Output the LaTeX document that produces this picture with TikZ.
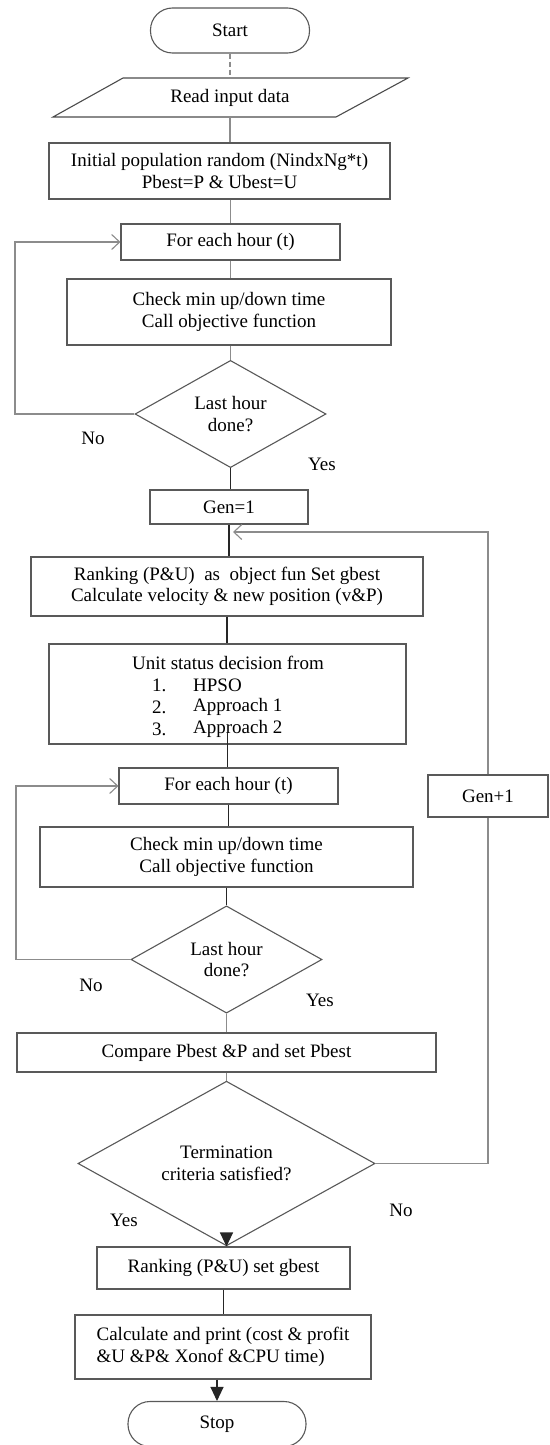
\documentclass[tikz,border=0pt]{standalone}
\usepackage{fontspec}
\setmainfont{Liberation Serif}
\usetikzlibrary{shapes.geometric,arrows.meta,calc}
\begin{document}
\begin{tikzpicture}[x=1pt,y=-1pt,
  font=\fontsize{19}{21.5}\selectfont,
  box/.style={draw=black!65,line width=1.1pt,inner sep=0pt,align=center},
  term/.style={box,rounded corners=22pt},
  dec/.style={diamond,draw=black!65,line width=1.1pt,inner sep=0pt,align=center},
  lbl/.style={inner sep=0pt},
  gline/.style={draw=black!45,line width=1.1pt},
  kline/.style={draw=black!85,line width=1.1pt},
  openarrow/.style={-{Straight Barb[length=8pt,width=15pt]}},
  fillarrow/.style={-{Triangle[length=14pt,width=13pt]}}]
\useasboundingbox (0,0) rectangle (549,1445);
\fill[white] (0,0) rectangle (549,1445);

% nodes
\node[term,minimum width=159pt,minimum height=45pt] (start) at (230,30.5) {Start};
\draw[draw=black!70,line width=1.1pt] (53,117) -- (123,78) -- (408,78) -- (336,117) -- cycle;
\node[lbl,minimum width=280pt,minimum height=39pt] (read) at (230,97.5) {Read input data};
\node[box,minimum width=341pt,minimum height=56pt] (init) at (219.5,171) {Initial population random (NindxNg*t)\\Pbest=P \& Ubest=U};
\node[box,minimum width=219pt,minimum height=36pt] (for1) at (230.5,242) {For each hour (t)};
\node[box,minimum width=324pt,minimum height=66pt] (check1) at (229,312) {Check min up/down time\\Call objective function};
\node[dec,minimum width=191pt,minimum height=94pt] (dia1) at (230.5,414) {Last hour\\done?};
\node[box,minimum width=158pt,minimum height=34pt] (gen1) at (229,507) {Gen=1};
\node[box,minimum width=392pt,minimum height=59pt] (rank1) at (227,586.5) {Ranking (P\&U)~~as~~object fun Set gbest\\Calculate velocity \& new position (v\&P)};
\node[box,minimum width=357pt,minimum height=100pt] (unit) at (227.5,694) {};
\node[lbl] (ut0) at (228,663) {Unit status decision from};
\node[lbl,anchor=west] (un1) at (152,685) {1.};
\node[lbl,anchor=west] (ui1) at (193,685) {HPSO};
\node[lbl,anchor=west] (un2) at (152,707) {2.};
\node[lbl,anchor=west] (ui2) at (193,707) {Approach 1};
\node[lbl,anchor=west] (un3) at (152,729) {3.};
\node[lbl,anchor=west] (ui3) at (193,729) {Approach 2};
\node[box,minimum width=219pt,minimum height=36pt] (for2) at (228.5,786) {For each hour (t)};
\node[box,minimum width=373pt,minimum height=60pt] (check2) at (226.5,857) {Check min up/down time\\Call objective function};
\node[dec,minimum width=191pt,minimum height=95pt] (dia2) at (226.5,959.5) {Last hour\\done?};
\node[box,minimum width=419pt,minimum height=39pt] (compare) at (226.5,1052.5) {Compare Pbest \&P and set Pbest};
\node[dec,minimum width=297pt,minimum height=121pt] (dia3) at (226.5,1163.5) {Termination\\criteria satisfied?};
\node[box,minimum width=120pt,minimum height=42pt] (genp) at (488,796) {Gen+1};
\node[box,minimum width=253pt,minimum height=42pt] (rank2) at (223.5,1268) {Ranking (P\&U) set gbest};
\node[box,minimum width=296pt,minimum height=64pt,align=left] (calc) at (223,1347) {Calculate and print (cost \& profit\\\&U \&P\& Xonof \&CPU time)};
\node[term,minimum width=178pt,minimum height=45pt] (stop) at (217,1424) {Stop};

% labels
\node[lbl] (no1) at (93,438) {No};
\node[lbl] (yes1) at (322,464) {Yes};
\node[lbl] (no2) at (91,985) {No};
\node[lbl] (yes2) at (320,1000) {Yes};
\node[lbl] (no3) at (401,1210) {No};
\node[lbl] (yes3) at (124,1220) {Yes};

% helper coordinates
\coordinate (l1) at (15,0);
\coordinate (l2) at (16,0);
\coordinate (fb) at (233,532);

% connectors
\draw[gline,dashed,dash pattern=on 5pt off 3pt] (start.south) -- (start.south |- read.north);
\draw[gline] (read.south) -- (read.south |- init.north);
\draw[gline] (for1.north |- init.south) -- (for1.north);
\draw[gline] (for1.south) -- (for1.south |- check1.north);
\draw[gline] (dia1.north |- check1.south) -- (dia1.north);
\draw[gline,openarrow] (dia1.west) -- (dia1.west -| l1) |- (for1.west);
\draw[kline] (dia1.south) -- (dia1.south |- gen1.north);
\draw[kline] (gen1.south) -- (gen1.south |- rank1.north);
\draw[gline,openarrow] (genp.north) |- (fb);
\draw[kline] (rank1.south) -- (rank1.south |- unit.north);
\draw[kline] ($(unit.south)+(0,-12)$) -- (unit.south |- for2.north);
\draw[kline] (for2.south) -- (for2.south |- check2.north);
\draw[kline] (check2.south) -- (check2.south |- dia2.north);
\draw[gline,openarrow] (dia2.west) -- (dia2.west -| l2) |- (for2.west);
\draw[gline] (dia2.south) -- (dia2.south |- compare.north);
\draw[gline] (compare.south) -- (compare.south |- dia3.north);
\draw[gline] (dia3.east) -| (genp.south);
\draw[kline,fillarrow] (dia3.south) -- (dia3.south |- rank2.north);
\draw[kline] (rank2.south) -- (rank2.south |- calc.north);
\draw[kline,fillarrow] (stop.north |- calc.south) -- (stop.north);
\end{tikzpicture}
\end{document}
